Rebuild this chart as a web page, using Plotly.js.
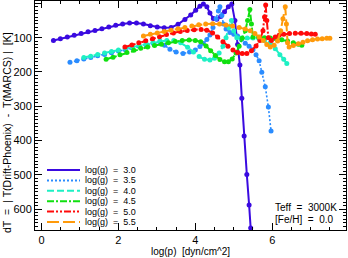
<!DOCTYPE html>
<html>
<head>
<meta charset="utf-8">
<script src="https://cdn.plot.ly/plotly-3.0.1.min.js"></script>
<style>html,body{margin:0;padding:0;background:#fff;}#chart{width:348px;height:258px;}</style>
</head>
<body>
<div id="chart"></div>
<script>
// log(p) [dyn/cm^2] and dT [K] for each log(g)
const labels = ["log(g)\u00a0\u00a0=\u00a0\u00a03.0","log(g)\u00a0\u00a0=\u00a0\u00a03.5","log(g)\u00a0\u00a0=\u00a0\u00a04.0","log(g)\u00a0\u00a0=\u00a0\u00a04.5","log(g)\u00a0\u00a0=\u00a0\u00a05.0","log(g)\u00a0\u00a0=\u00a0\u00a05.5"];

const x30 = [0.31,0.49,0.67,0.85,1.03,1.21,1.39,1.57,1.75,1.93,2.11,2.29,2.47,2.65,2.83,3.01,3.19,3.37,3.55,3.73,3.88,4.01,4.12,4.21,4.30,4.38,4.47,4.56,4.66,4.76,4.86,4.95,5.03,5.10,5.16,5.21,5.27,5.34,5.40,5.44];
const y30 = [108,103,98,93,88,83,79,74,69,64,60,57,57,60,65,69,71,70,61,47,34,20,8,2,10,28,44,46,38,24,10,2,50,120,180,277,387,499,588,655];

const x35 = [0.74,0.92,1.10,1.28,1.46,1.64,1.82,2.00,2.18,2.36,2.54,2.72,2.90,3.08,3.20,3.34,3.50,3.68,3.85,4.00,4.12,4.21,4.30,4.38,4.46,4.54,4.60,4.64,4.69,4.73,4.80,4.90,5.00,5.10,5.20,5.30,5.40,5.50,5.58,5.66,5.73,5.82,5.90,5.97];
const y35 = [172,167,162,158,153,149,144,139,135,130,125,121,116,112,122,134,142,146,142,136,126,117,105,92,70,45,22,10,35,60,75,85,90,95,105,116,125,135,150,167,201,243,302,372];

const x40 = [1.10,1.28,1.46,1.64,1.82,2.00,2.18,2.36,2.54,2.72,2.90,3.08,3.26,3.44,3.62,3.80,3.95,4.10,4.24,4.38,4.50,4.62,4.72,4.80,4.88,4.94,5.00,5.08,5.20,5.35,5.50,5.65,5.80,5.95,6.08,6.20,6.30,6.38];
const y40 = [158,154,149,145,140,136,131,127,122,118,114,110,108,108,115,128,142,155,163,165,160,145,125,100,70,50,80,100,101,101,101,102,108,116,132,150,163,175];

const x45 = [1.68,1.86,2.04,2.22,2.40,2.58,2.76,2.94,3.12,3.30,3.48,3.66,3.84,4.00,4.14,4.28,4.40,4.52,4.64,4.76,4.86,4.96,5.06,5.14,5.22,5.30,5.36,5.42,5.46,5.50,5.65,5.80,5.95,6.10,6.25,6.40,6.55,6.68,6.77];
const y45 = [163,157,150,143,137,131,127,123,119,115,111,108,107,108,112,124,138,152,164,170,170,162,145,125,102,80,50,18,60,98,99,100,101,103,106,110,115,119,122];

const x50 = [2.17,2.35,2.53,2.71,2.89,3.07,3.25,3.43,3.61,3.79,3.97,4.15,4.30,4.45,4.58,4.72,4.85,4.98,5.10,5.22,5.34,5.46,5.58,5.68,5.76,5.80,5.83,5.86,5.90,5.98,6.08,6.18,6.30,6.45,6.60,6.75,6.90,7.02,7.12];
const y50 = [127,121,115,109,103,97,91,86,82,79,77,76,78,86,98,112,125,136,143,146,146,138,124,108,80,40,5,50,100,108,98,93,90,88,87,87,88,89,90];

const x55 = [2.65,2.83,3.01,3.19,3.37,3.55,3.73,3.91,4.09,4.27,4.45,4.63,4.80,4.97,5.14,5.30,5.43,5.55,5.66,5.77,5.86,5.95,6.05,6.14,6.22,6.28,6.34,6.37,6.40,6.44,6.55,6.68,6.80,6.92,7.05,7.18,7.30,7.42,7.50];
const y55 = [95,90,86,82,78,74,70,66,62,60,59,60,63,66,70,75,80,88,98,108,120,127,122,110,80,45,10,60,115,127,123,118,113,109,106,104,103,102,102];

const xs = [x30,x35,x40,x45,x50,x55];
const ys = [y30,y35,y40,y45,y50,y55];
const colors = ["#3a0ae0","#2a8cff","#1ef0c4","#10e010","#ff0a0a","#ff9a0a"];
const dashes = ["solid","2px,2px","7px,3px","7px,2px,2px,2px","7px,2px,2px,2px,2px,2px","12px,4px"];
const widths = [2,1.6,2,2,2,2];

const traces = xs.map((x,i)=>({
  type:"scatter", mode:"lines+markers", x:x, y:ys[i], name:labels[i], showlegend:false,
  line:{color:colors[i], width:widths[i], dash:dashes[i]},
  marker:{color:colors[i], size:5}
}));

// hand-built legend (lines + labels) in paper coords
const shapes = [], annotations = [];
const plotH = 229, plotTop = 1;
const FONT = "Liberation Sans, Arial, sans-serif";
labels.forEach((lab,i)=>{
  const py = 170 + i*10.4;
  const yp = 1 - (py-plotTop)/plotH;
  shapes.push({type:"line", xref:"paper", yref:"paper", x0:0.0386, x1:0.1447, y0:yp, y1:yp,
    line:{color:colors[i], width:2, dash:dashes[i]}});
  annotations.push({xref:"paper", yref:"paper", x:0.1576, y:yp, xanchor:"left", yanchor:"middle",
    text:lab, showarrow:false, borderpad:0, font:{size:9, color:"#000", family:FONT}});
});
annotations.push({xref:"paper", yref:"paper", x:(274-35)/311, y:1-(207-1)/229, xanchor:"left", yanchor:"middle",
  text:"Teff\u00a0\u00a0=\u00a0\u00a03000K", showarrow:false, borderpad:0, font:{size:10,color:"#000",family:FONT}});
annotations.push({xref:"paper", yref:"paper", x:(274-35)/311, y:1-(219-1)/229, xanchor:"left", yanchor:"middle",
  text:"[Fe/H]\u00a0\u00a0=\u00a0\u00a00.0", showarrow:false, borderpad:0, font:{size:10,color:"#000",family:FONT}});
annotations.push({xref:"paper", yref:"paper", x:-(35-7)/311, y:1-(133-1)/229, xanchor:"center", yanchor:"middle", textangle:-90,
  text:"dT\u00a0\u00a0=\u00a0\u00a0|\u00a0T(Drift-Phoenix)\u00a0\u00a0-\u00a0\u00a0T(MARCS)\u00a0|\u00a0\u00a0[K]", showarrow:false,
  font:{size:10.5,color:"#000",family:FONT}});

const axisCommon = {
  showline:true, linecolor:"#000", linewidth:1, mirror:"ticks", ticks:"inside",
  tickcolor:"#000", tickwidth:1, ticklen:7, showgrid:false, zeroline:false,
  tickfont:{size:11, color:"#000", family:FONT}
};

const layout = {
  width:348, height:258, margin:{l:35, r:2, t:1, b:28},
  paper_bgcolor:"#fff", plot_bgcolor:"#fff", showlegend:false,
  xaxis:Object.assign({}, axisCommon, {
    range:[-0.17,7.92], tick0:0, dtick:2,
    minor:{dtick:0.5, ticklen:3, tickcolor:"#000", ticks:"inside", showgrid:false},
    title:{text:"log(p)\u00a0\u00a0[dyn/cm^2]", standoff:2, font:{size:10,color:"#000",family:FONT}}
  }),
  yaxis:Object.assign({}, axisCommon, {
    range:[661,-7], tick0:0, dtick:100,
    minor:{dtick:10, ticklen:3, tickcolor:"#000", ticks:"inside", showgrid:false}
  }),
  shapes:shapes, annotations:annotations
};

Plotly.newPlot("chart", traces, layout, {displayModeBar:false, staticPlot:true});
</script>
</body>
</html>
